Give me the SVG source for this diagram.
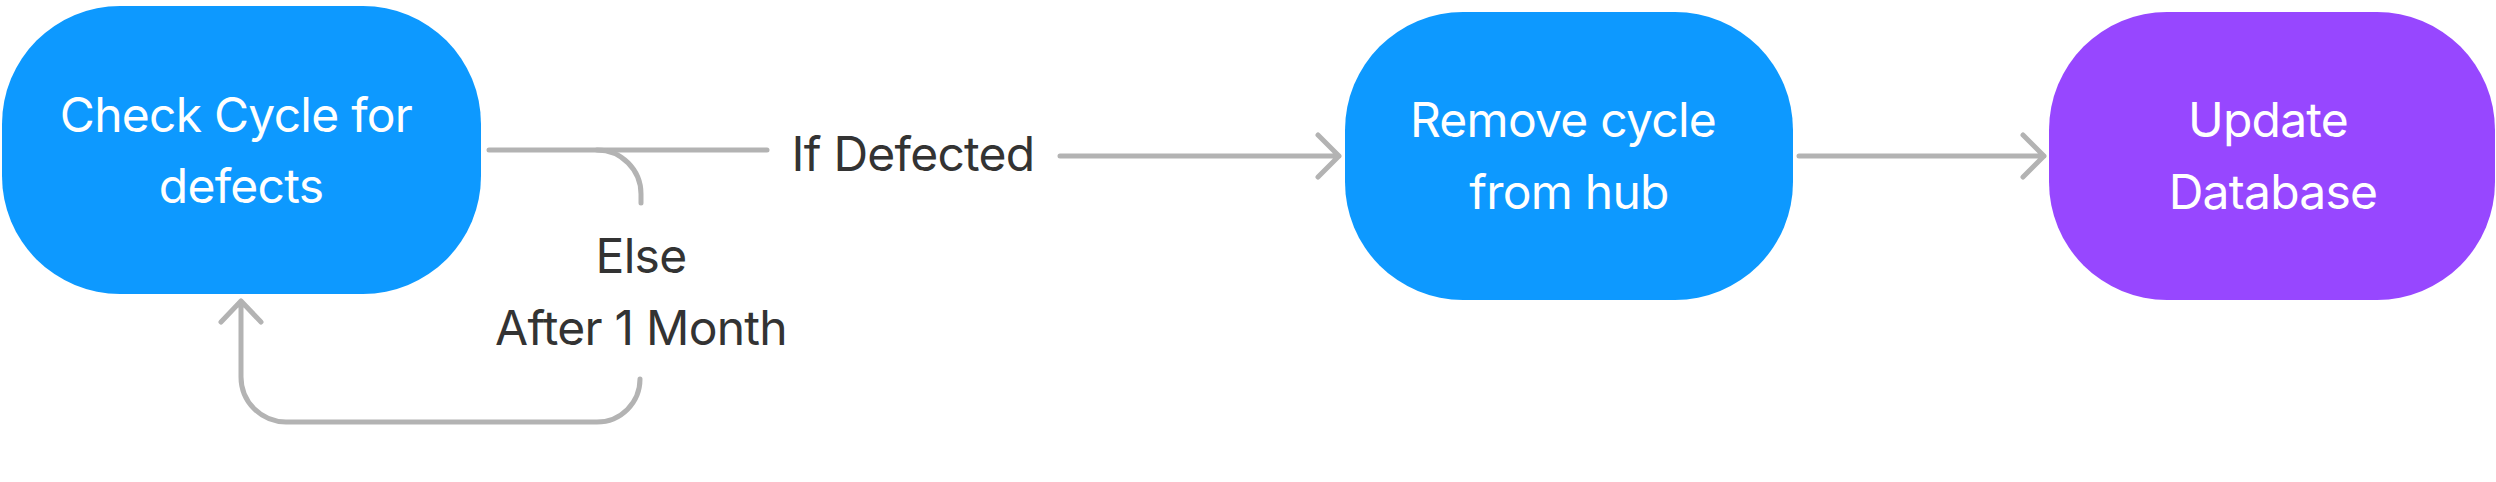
<svg xmlns="http://www.w3.org/2000/svg" width="2496" height="482" viewBox="0 0 2496 482">
<style>
.node-text{font-family:Inter,"Noto Sans",sans-serif;font-size:48px;letter-spacing:-0.75px;fill:#FFFFFF;text-anchor:middle}
.label{font-family:Inter,"Noto Sans",sans-serif;font-size:48px;letter-spacing:-0.75px;fill:#333333;text-anchor:middle}
.conn{fill:none;stroke:#B3B3B3;stroke-width:5;stroke-linecap:round;stroke-linejoin:round}
</style>
<rect width="2496" height="482" fill="#FFFFFF"/>
<g id="connectors">
  <path class="conn" d="M489 150 L767 150"/>
  <path class="conn" d="M597 150 A44 44 0 0 1 641 194 L641 203"/>
  <path class="conn" d="M1060 156 L1339 156 M1318 135 L1339 156 L1318 177"/>
  <path class="conn" d="M640 379 A43 43 0 0 1 597 422 L286 422 A45 45 0 0 1 241 377 L241 301 M221 322 L241 301 L261 322"/>
  <path class="conn" d="M1799 156 L2044 156 M2023 135 L2044 156 L2023 177"/>
</g>
<g id="node-check">
  <rect x="2" y="6" width="479" height="288" rx="118" ry="118" fill="#0D99FF"/>
  <text class="node-text" x="236" y="132">Check Cycle for</text>
  <text class="node-text" x="241" y="203">defects</text>
</g>
<g id="node-remove">
  <rect x="1345" y="12" width="448" height="288" rx="118" ry="118" fill="#0D99FF"/>
  <text class="node-text" x="1563" y="137">Remove cycle</text>
  <text class="node-text" x="1569" y="209">from hub</text>
</g>
<g id="node-update">
  <rect x="2049" y="12" width="446" height="288" rx="118" ry="118" fill="#9747FF"/>
  <text class="node-text" x="2268" y="137">Update</text>
  <text class="node-text" x="2273" y="209">Database</text>
</g>
<g id="labels">
  <text class="label" x="913" y="171">If Defected</text>
  <text class="label" x="641" y="273">Else</text>
  <text class="label" x="641" y="345">After 1 Month</text>
</g>
</svg>
